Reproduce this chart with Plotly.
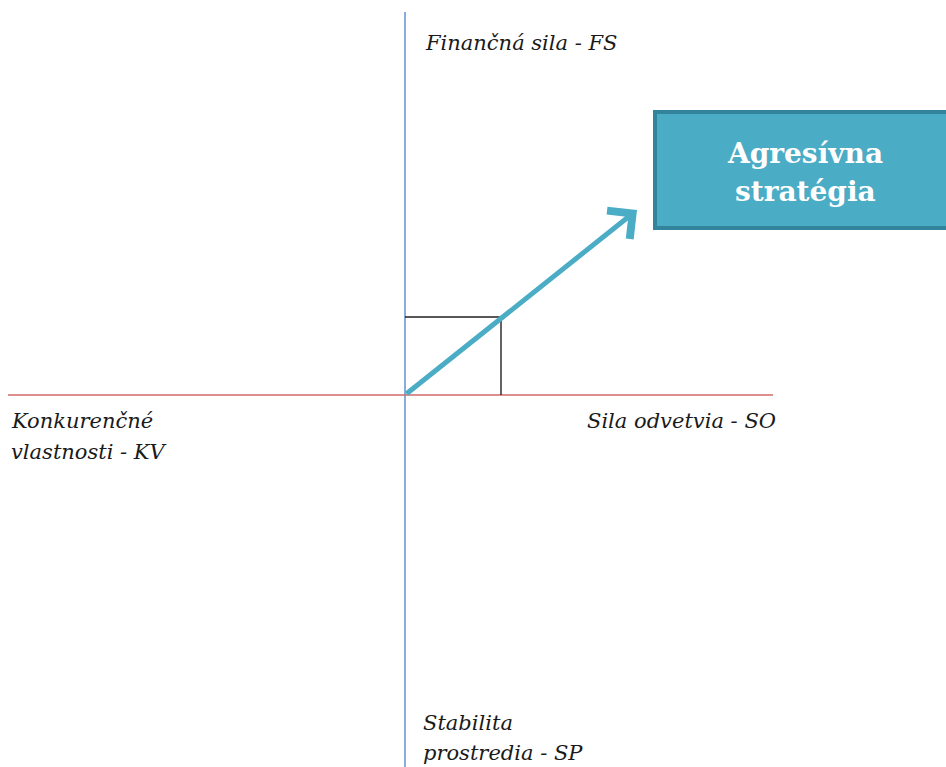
import plotly.graph_objects as go

# --- data (SPACE matrix, axis units, origin at intersection) ---
axis_names = ["Finančná sila - FS", "Sila odvetvia - SO",
              "Konkurenčné", "vlastnosti - KV",
              "Stabilita", "prostredia - SP"]
so_value = 96      # Sila odvetvia
fs_value = 78      # Finančná sila
arrow_end = [232, 185]
strategy_label = ["Agresívna", "stratégia"]

x_min, x_max = -405, 541
y_min, y_max = -372, 395

fig = go.Figure()

# vertical axis (blue)
fig.add_trace(go.Scatter(x=[0, 0], y=[383, y_min], mode="lines",
                         line=dict(color="#6f96d4", width=1.6), hoverinfo="skip"))
# horizontal axis (red)
fig.add_trace(go.Scatter(x=[-397, 368], y=[0, 0], mode="lines",
                         line=dict(color="#d06a6a", width=1.6), hoverinfo="skip"))
# small rectangle from the vector components
fig.add_trace(go.Scatter(x=[0, so_value, so_value], y=[fs_value, fs_value, 0], mode="lines",
                         line=dict(color="#222222", width=1.4), hoverinfo="skip"))

# strategy box
fig.add_shape(type="rect", x0=250, x1=545, y0=167, y1=283,
              line=dict(color="#31849b", width=4), fillcolor="#4bacc6")

# arrow
fig.add_annotation(x=arrow_end[0], y=arrow_end[1], ax=0, ay=0,
                   xref="x", yref="y", axref="x", ayref="y",
                   showarrow=True, arrowhead=4, arrowsize=1.4, arrowwidth=5,
                   arrowcolor="#4bacc6", text="")

lab_font = dict(family="DejaVu Serif", size=21, color="#1a1a1a")
label_pos = [(18, 352, "left"), (373, -26, "right"),
             (-396, -26, "left"), (-396, -57, "left"),
             (16, -328, "left"), (16, -358, "left")]
for txt, (x, y, anch) in zip(axis_names, label_pos):
    fig.add_annotation(x=x, y=y, text="<i>" + txt + "</i>", showarrow=False,
                       xanchor=anch, yanchor="middle", font=lab_font)

box_font = dict(family="DejaVu Serif", size=28, color="white")
for txt, y in zip(strategy_label, [242, 204]):
    fig.add_annotation(x=400, y=y, text="<b>" + txt + "</b>", showarrow=False,
                       xanchor="center", yanchor="middle", font=box_font)

fig.update_layout(
    width=946, height=767, margin=dict(l=0, r=0, t=0, b=0),
    paper_bgcolor="white", plot_bgcolor="white", showlegend=False,
    xaxis=dict(range=[x_min, x_max], visible=False, fixedrange=True),
    yaxis=dict(range=[y_min, y_max], visible=False, fixedrange=True),
)

fig.write_html("out.html")
